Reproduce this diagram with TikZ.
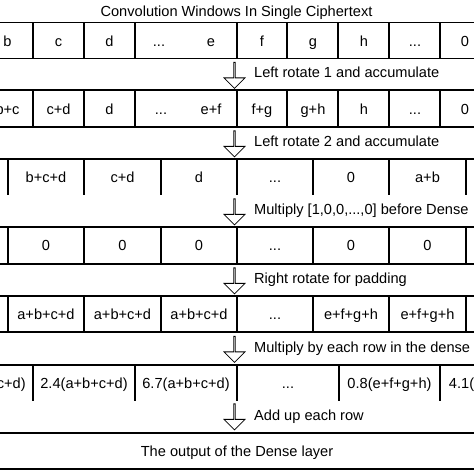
\documentclass[tikz,border=0pt]{standalone}
\usepackage{fontspec}
\setmainfont{Liberation Sans}
\usetikzlibrary{shapes.arrows}
\tikzset{
    cell/.style={anchor=base, inner sep=0pt},
    lbl/.style={anchor=base west, inner sep=0pt},
    downarrow/.style={draw, single arrow, shape border rotate=270, inner sep=0pt,
        minimum height=26pt, minimum width=21pt, single arrow head extend=5pt,
        single arrow tip angle=90, line width=0.8pt},
    rule/.style={line width=1.2pt}
}
\begin{document}
\begin{tikzpicture}[x=1pt, y=-1pt, font=\fontsize{14.6pt}{17pt}\selectfont]
            \clip (0,0) rectangle (474,474);
            \node[cell] (T) at (236.5,16) {Convolution Windows In Single Ciphertext};
            % first row
            \draw[rule] (0,22.5) -- (474,22.5) (0,58.5) -- (474,58.5);
            \draw[rule] (33,22.5) -- (33,58.5) (84,22.5) -- (84,58.5) (135,22.5) -- (135,58.5)
                (237,22.5) -- (237,58.5) (287,22.5) -- (287,58.5) (338,22.5) -- (338,58.5)
                (389,22.5) -- (389,58.5) (440,22.5) -- (440,58.5);
            \node[cell] (A1) at (7.5,46.5) {b};
            \node[cell] (A2) at (58.5,46.5) {c};
            \node[cell] (A3) at (109.5,46.5) {d};
            \node[cell] (A4) at (159,46.5) {...};
            \node[cell] (A5) at (211,46.5) {e};
            \node[cell] (A6) at (262,46.5) {f};
            \node[cell] (A7) at (313,46.5) {g};
            \node[cell] (A8) at (364,46.5) {h};
            \node[cell] (A9) at (415,46.5) {...};
            \node[cell] (A10) at (465,46.5) {0};
            \node[downarrow] (D1) at (234.5,75) {};
            \node[lbl] (L1) at (254,77) {Left rotate 1 and accumulate};
            % second row
            \draw[rule] (0,90) -- (474,90) (0,127) -- (474,127);
            \draw[rule] (33,90) -- (33,127) (84,90) -- (84,127) (135,90) -- (135,127)
                (237,90) -- (237,127) (287,90) -- (287,127) (338,90) -- (338,127)
                (389,90) -- (389,127) (440,90) -- (440,127);
            \node[cell] (B1) at (7.5,114.5) {b+c};
            \node[cell] (B2) at (58.5,114.5) {c+d};
            \node[cell] (B3) at (109.5,114.5) {d};
            \node[cell] (B4) at (161,114.5) {...};
            \node[cell] (B5) at (211,114.5) {e+f};
            \node[cell] (B6) at (262,114.5) {f+g};
            \node[cell] (B7) at (313,114.5) {g+h};
            \node[cell] (B8) at (364,114.5) {h};
            \node[cell] (B9) at (415,114.5) {...};
            \node[cell] (B10) at (465,114.5) {0};
            \node[downarrow] (D2) at (234.5,143.5) {};
            \node[lbl] (L2) at (254,146) {Left rotate 2 and accumulate};
            % third row
            \draw[rule] (0,159) -- (474,159);
            \draw[rule] (8,159) -- (8,195) (84,159) -- (84,195) (161,159) -- (161,195)
                (237,159) -- (237,195) (313,159) -- (313,195) (389,159) -- (389,195)
                (466,159) -- (466,195);
            \node[cell] (C1) at (46,182.5) {b+c+d};
            \node[cell] (C2) at (122.5,182.5) {c+d};
            \node[cell] (C3) at (199,182.5) {d};
            \node[cell] (C4) at (275,182.5) {...};
            \node[cell] (C5) at (351,182.5) {0};
            \node[cell] (C6) at (427.5,182.5) {a+b};
            \node[downarrow] (D3) at (234.5,211.5) {};
            \node[lbl] (L3) at (254,214) {Multiply [1,0,0,...,0] before Dense};
            % fourth row
            \draw[rule] (0,227) -- (474,227) (0,264) -- (474,264);
            \draw[rule] (8,227) -- (8,264) (84,227) -- (84,264) (161,227) -- (161,264)
                (237,227) -- (237,264) (313,227) -- (313,264) (389,227) -- (389,264)
                (466,227) -- (466,264);
            \node[cell] (E1) at (46,250.5) {0};
            \node[cell] (E2) at (122.5,250.5) {0};
            \node[cell] (E3) at (199,250.5) {0};
            \node[cell] (E4) at (275,250.5) {...};
            \node[cell] (E5) at (351,250.5) {0};
            \node[cell] (E6) at (427.5,250.5) {0};
            \node[downarrow] (D4) at (234.5,280.5) {};
            \node[lbl] (L4) at (254,283) {Right rotate for padding};
            % fifth row
            \draw[rule] (0,296) -- (474,296) (0,332) -- (474,332);
            \draw[rule] (8,296) -- (8,332) (84,296) -- (84,332) (161,296) -- (161,332)
                (237,296) -- (237,332) (313,296) -- (313,332) (389,296) -- (389,332)
                (466,296) -- (466,332);
            \node[cell] (F1) at (46,319.5) {a+b+c+d};
            \node[cell] (F2) at (122.5,319.5) {a+b+c+d};
            \node[cell] (F3) at (199,319.5) {a+b+c+d};
            \node[cell] (F4) at (275,319.5) {...};
            \node[cell] (F5) at (351,319.5) {e+f+g+h};
            \node[cell] (F6) at (427.5,319.5) {e+f+g+h};
            \node[downarrow] (D5) at (234.5,349) {};
            \node[lbl] (L5) at (254,352) {Multiply by each row in the dense};
            % sixth row
            \draw[rule] (0,365) -- (474,365);
            \draw[rule] (33,365) -- (33,401) (135,365) -- (135,401) (237,365) -- (237,401)
                (339,365) -- (339,401) (440,365) -- (440,401);
            \node[cell] (G1) at (-18,388.5) {5.3(a+b+c+d)};
            \node[cell] (G2) at (84,388.5) {2.4(a+b+c+d)};
            \node[cell] (G3) at (186,388.5) {6.7(a+b+c+d)};
            \node[cell] (G4) at (288,388.5) {...};
            \node[cell] (G5) at (389.5,388.5) {0.8(e+f+g+h)};
            \node[cell] (G6) at (491,388.5) {4.1(e+f+g+h)};
            \node[downarrow] (D6) at (234.5,416.5) {};
            \node[lbl] (L6) at (254,420) {Add up each row};
            % output row
            \draw[rule] (0,433) -- (474,433) (0,469) -- (474,469);
            \node[cell] (H) at (237,456) {The output of the Dense layer};
        \end{tikzpicture}
\end{document}
